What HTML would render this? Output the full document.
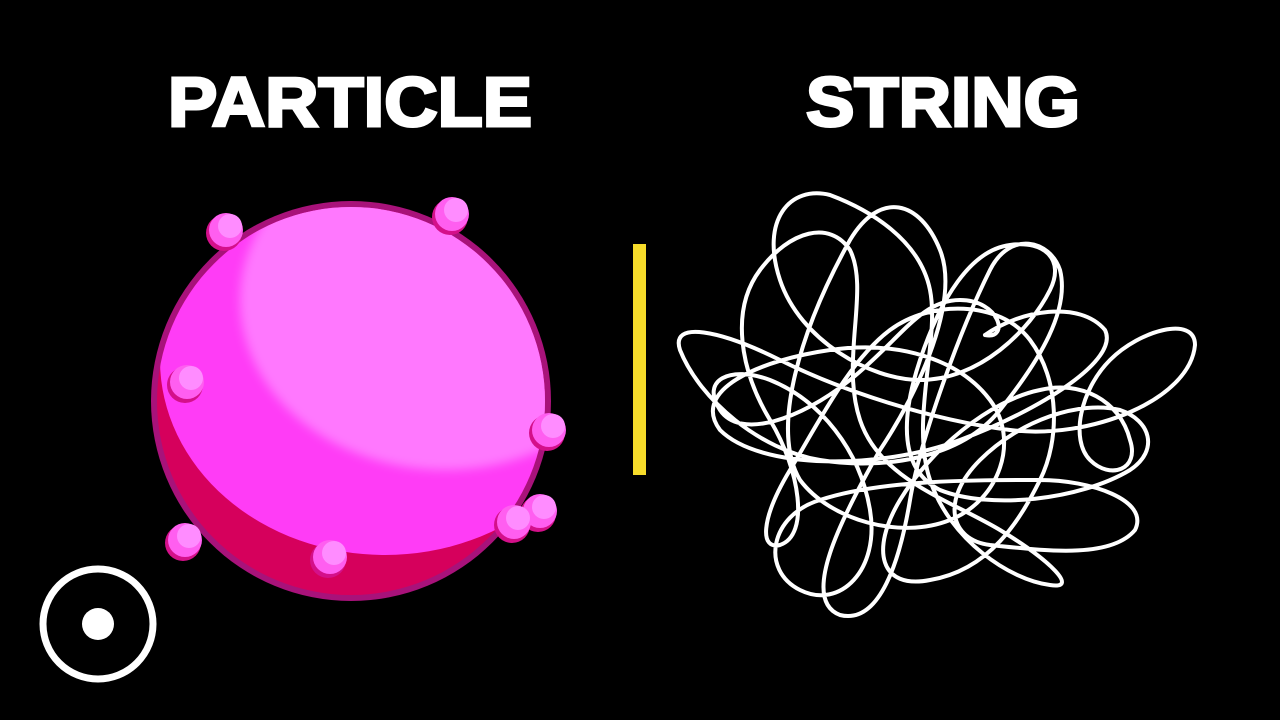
<!DOCTYPE html>
<html><head><meta charset="utf-8"><style>
html,body{margin:0;padding:0;background:#000;width:1280px;height:720px;overflow:hidden}
svg{display:block}
</style></head><body>
<svg width="1280" height="720" viewBox="0 0 1280 720">
<rect width="1280" height="720" fill="#000"/>
<defs>
<clipPath id="sph"><circle cx="351" cy="401" r="194"/></clipPath>
<filter id="bl"><feGaussianBlur stdDeviation="5"/></filter>
</defs>
<text x="168" y="126" textLength="364" lengthAdjust="spacingAndGlyphs" font-family="Liberation Sans, sans-serif" font-weight="bold" font-size="70" fill="#fff" stroke="#fff" stroke-width="3">PARTICLE</text>
<text x="806" y="126" textLength="274" lengthAdjust="spacingAndGlyphs" font-family="Liberation Sans, sans-serif" font-weight="bold" font-size="70" fill="#fff" stroke="#fff" stroke-width="3">STRING</text>
<g>
<circle cx="351" cy="401" r="200" fill="#a8127a"/>
<circle cx="351" cy="401" r="194" fill="#d6005c"/>
<g clip-path="url(#sph)">
<ellipse cx="385" cy="360" rx="225" ry="195" fill="#ff3cf6"/>
<ellipse cx="445" cy="300" rx="205" ry="170" fill="#ff78fe" filter="url(#bl)"/>
</g>
</g>
<g id="bumps"></g>
<rect x="633" y="244" width="13" height="231" fill="#f7dc2a"/>
<path fill="none" stroke="#fff" stroke-width="4" stroke-linecap="round" stroke-linejoin="round"
d="M985 335 C1020 310 1080 300 1105 330 C1120 360 1040 410 960 440 C880 470 760 470 720 430 C690 390 760 360 830 350 C900 340 960 360 990 400 C1020 440 1000 500 950 520 C900 540 830 520 800 480 C770 430 800 330 850 240 C880 190 920 200 940 250 C960 300 920 390 880 450 C840 520 800 600 840 615 C880 625 900 560 910 500 C920 440 960 330 990 270 C1010 230 1050 240 1060 270 C1070 310 1040 360 1000 410 C960 460 880 470 820 460 C760 450 700 400 680 350 C670 320 720 330 780 360 C840 390 930 420 1010 430 C1090 440 1190 400 1195 345 C1195 315 1140 330 1110 360 C1080 390 1070 440 1090 460 C1110 480 1140 470 1130 440 C1120 400 1080 380 1040 390 C990 400 930 450 900 500 C870 550 880 590 930 580 C990 570 1020 520 1040 480 C1060 440 1060 380 1030 340 C1000 300 930 300 890 330 C850 360 820 420 790 470 C760 520 760 550 780 545 C810 535 800 470 770 420 C740 370 730 310 760 270 C790 230 830 220 850 250 C870 290 840 360 860 420 C880 480 950 500 1000 530 C1050 560 1080 590 1050 585 C1010 580 950 540 930 480 C910 420 940 340 930 290 C920 240 870 210 830 195 C790 185 760 220 780 280 C800 340 870 380 920 380 C980 380 1030 330 1050 290 C1065 260 1045 240 1010 245 C970 250 940 300 920 360 C900 420 900 470 940 490 C990 510 1080 500 1130 470 C1160 450 1150 420 1120 410 C1080 400 1020 420 980 460 C940 500 950 540 990 545 C1040 550 1110 560 1135 530 C1150 500 1090 480 1040 480 C970 480 880 480 820 500 C770 515 760 570 800 590 C840 610 880 570 870 510 C860 450 820 400 770 380 C730 365 700 380 720 410 C740 440 800 420 850 380 C900 340 920 300 960 300 C1000 300 1010 340 985 335"/>
<g>
<circle cx="98" cy="624" r="55" fill="none" stroke="#fff" stroke-width="7"/>
<circle cx="98" cy="624" r="16" fill="#fff"/>
</g>
</svg>
<script>
const bumpX=[226,452,187,549,540,514,185,330];
const bumpY=[230,214,382,430,511,522,540,557];
const g=document.getElementById('bumps');
const ns='http://www.w3.org/2000/svg';
bumpX.forEach((x,i)=>{
  const y=bumpY[i];
  const a=document.createElementNS(ns,'circle');
  a.setAttribute('cx',x-2);a.setAttribute('cy',y+3);a.setAttribute('r',18);a.setAttribute('fill','#d4108a');
  
  
  g.appendChild(a);
  const b=document.createElementNS(ns,'circle');
  b.setAttribute('cx',x);b.setAttribute('cy',y);b.setAttribute('r',17);b.setAttribute('fill','#ff5ef0');
  
  
  g.appendChild(b);
  const c=document.createElementNS(ns,'circle');
  c.setAttribute('cx',x+4);c.setAttribute('cy',y-4);c.setAttribute('r',12);c.setAttribute('fill','#ff8cff');
  
  
  g.appendChild(c);
});
</script>
</body></html>
